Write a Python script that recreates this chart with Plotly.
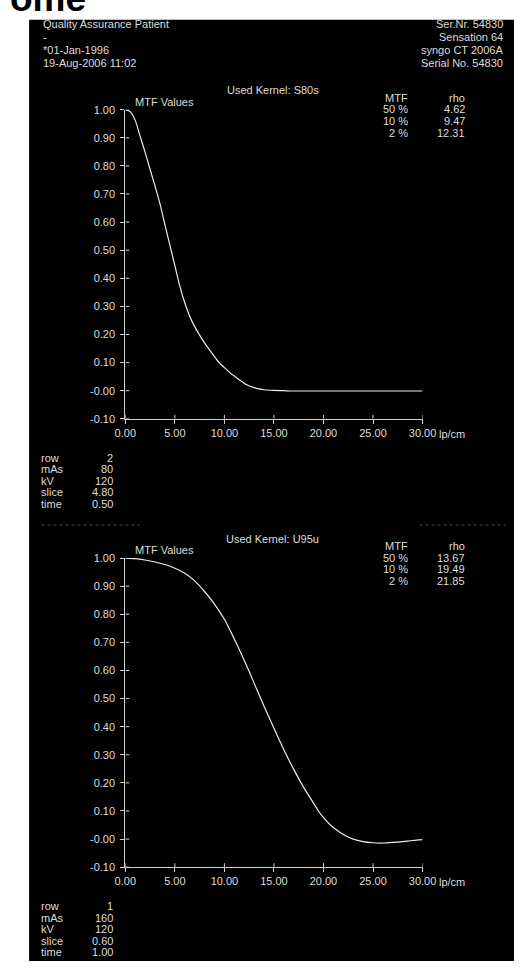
import plotly.graph_objects as go

# ---- page geometry (pixels) ----
W, H = 528, 967

# ---- header text ----
header_left = ["Quality Assurance Patient", "-", "*01-Jan-1996", "19-Aug-2006 11:02"]
header_right = ["Ser.Nr. 54830", "Sensation 64", "syngo CT 2006A", "Serial No. 54830"]

# ---- axes ticks ----
x_ticks = [0, 5, 10, 15, 20, 25, 30]
x_ticktext = ["0.00", "5.00", "10.00", "15.00", "20.00", "25.00", "30.00"]
y_ticks = [-0.1, 0.0, 0.1, 0.2, 0.3, 0.4, 0.5, 0.6, 0.7, 0.8, 0.9, 1.0]
y_ticktext = ["-0.10", "-0.00", "0.10", "0.20", "0.30", "0.40", "0.50",
              "0.60", "0.70", "0.80", "0.90", "1.00"]

# ---- kernel S80s ----
s80_kernel = "S80s"
s80_freq = [0.0, 0.5, 1.0, 1.5, 2.0, 2.5, 3.0, 3.5, 4.0, 4.62, 5.0, 5.5, 6.0, 6.5,
            7.0, 7.5, 8.0, 8.5, 9.0, 9.47, 10.0, 10.5, 11.0, 11.5, 12.0, 12.31,
            13.0, 13.5, 14.0, 15.0, 16.0, 17.0, 20.0, 25.0, 30.0]
s80_mtf = [1.000, 0.993, 0.962, 0.905, 0.848, 0.788, 0.728, 0.665, 0.590, 0.500,
           0.445, 0.372, 0.313, 0.265, 0.228, 0.198, 0.170, 0.145, 0.121, 0.100,
           0.082, 0.066, 0.052, 0.039, 0.027, 0.020, 0.011, 0.0065, 0.0035, 0.001,
           0.000, -0.001, -0.001, -0.001, -0.001]
s80_levels = ["50 %", "10 %", "2 %"]
s80_rho = ["4.62", "9.47", "12.31"]
s80_params = [("row", "2"), ("mAs", "80"), ("kV", "120"), ("slice", "4.80"), ("time", "0.50")]

# ---- kernel U95u ----
u95_kernel = "U95u"
u95_freq = [0.0, 1.0, 2.0, 3.0, 4.0, 5.0, 6.0, 7.0, 8.0, 9.0, 10.0, 11.0, 12.0,
            13.0, 13.67, 14.0, 15.0, 16.0, 17.0, 18.0, 19.0, 19.49, 20.0, 21.0,
            21.85, 22.0, 23.0, 24.0, 25.0, 26.0, 27.0, 28.0, 29.0, 30.0]
u95_mtf = [1.000, 0.998, 0.993, 0.986, 0.977, 0.964, 0.946, 0.919, 0.881, 0.836,
           0.782, 0.712, 0.636, 0.555, 0.500, 0.473, 0.394, 0.318, 0.248, 0.184,
           0.128, 0.100, 0.076, 0.040, 0.020, 0.0165, 0.000, -0.009, -0.013,
           -0.014, -0.012, -0.009, -0.005, -0.002]
u95_levels = ["50 %", "10 %", "2 %"]
u95_rho = ["13.67", "19.49", "21.85"]
u95_params = [("row", "1"), ("mAs", "160"), ("kV", "120"), ("slice", "0.60"), ("time", "1.00")]

TEXT = "#dcdcdc"
AXIS = "#cfcfcf"
CURVE = "#ececec"
FONT = "Liberation Sans, Arial, sans-serif"


def px(x):
    return x / W


def py(y):
    return 1 - y / H


fig = go.Figure()
annotations = []
shapes = []


def text(x, y, s, anchor="left", size=11, color=TEXT):
    annotations.append(dict(
        x=px(x), y=py(y), xref="paper", yref="paper", text=s, showarrow=False,
        xanchor=anchor, yanchor="middle",
        font=dict(family=FONT, size=size, color=color),
    ))


# black display panel
shapes.append(dict(type="rect", xref="paper", yref="paper", x0=px(19), x1=1,
                   y0=0, y1=py(14), fillcolor="black", line=dict(width=0),
                   layer="below"))

# large caption cut at the page top
annotations.append(dict(x=px(-3), y=py(15), xref="paper", yref="paper", text="<b>ome</b>",
                        showarrow=False, xanchor="left", yanchor="bottom",
                        font=dict(family=FONT, size=37, color="black")))

# header block
for i, s in enumerate(header_left):
    text(31, 18.5 + i * 13.1, s, "left")
for i, s in enumerate(header_right):
    text(519, 18.5 + i * 13.1, s, "right")

# faint remnants of a clipped second header
for xa, xb in [(32, 135), (429, 519)]:
    shapes.append(dict(type="line", xref="paper", yref="paper", x0=px(xa), x1=px(xb),
                       y0=py(525.5), y1=py(525.5),
                       line=dict(color="#484848", width=1, dash="dot")))

panels = [
    dict(top=105, bottom=418, xa="x", ya="y", kernel=s80_kernel, freq=s80_freq,
         mtf=s80_mtf, levels=s80_levels, rho=s80_rho, params=s80_params),
    dict(top=559, bottom=872, xa="x2", ya="y2", kernel=u95_kernel, freq=u95_freq,
         mtf=u95_mtf, levels=u95_levels, rho=u95_rho, params=u95_params),
]

X0, X1 = 120, 432
layout_axes = {}
for k, p in enumerate(panels):
    xname = "xaxis" if k == 0 else "xaxis2"
    yname = "yaxis" if k == 0 else "yaxis2"
    common = dict(showline=True, linecolor=AXIS, linewidth=1, ticks="outside",
                  ticklen=4, tickwidth=1, tickcolor=AXIS, showgrid=False,
                  zeroline=False, fixedrange=True,
                  tickfont=dict(family=FONT, size=11, color=TEXT))
    layout_axes[xname] = dict(common, domain=[px(X0), px(X1)], range=[0, 30],
                              anchor=p["ya"], tickvals=x_ticks, ticktext=x_ticktext)
    layout_axes[yname] = dict(common, domain=[py(p["bottom"]), py(p["top"])],
                              range=[-0.1, 1.0], anchor=p["xa"],
                              tickvals=y_ticks, ticktext=y_ticktext,
                              ticklabelstandoff=3)

    fig.add_trace(go.Scatter(x=p["freq"], y=p["mtf"], mode="lines",
                             line=dict(color=CURVE, width=1.2, shape="spline", smoothing=0.8),
                             xaxis=p["xa"], yaxis=p["ya"], showlegend=False,
                             hoverinfo="skip"))

    # inner halves of the crossing tick marks
    for v in x_ticks:
        shapes.append(dict(type="line", xref=p["xa"], yref=p["ya"], x0=v, x1=v,
                           ysizemode="pixel", yanchor=-0.1, y0=0, y1=4,
                           line=dict(color=AXIS, width=1)))
    for v in y_ticks:
        shapes.append(dict(type="line", xref=p["xa"], yref=p["ya"], y0=v, y1=v,
                           xsizemode="pixel", xanchor=0, x0=0, x1=4,
                           line=dict(color=AXIS, width=1)))

    top = p["top"]
    bot = p["bottom"]
    text(275, top - 19.5, "Used Kernel: " + p["kernel"], "center")
    text(128, top - 8, "MTF Values", "left")
    text(419, top - 12, "MTF", "right")
    text(479, top - 12, "rho", "right")
    for i, (lv, r) in enumerate(zip(p["levels"], p["rho"])):
        text(419, top - 0.5 + i * 11.8, lv, "right")
        text(479, top - 0.5 + i * 11.8, r, "right")
    text(447, bot + 15, "lp/cm", "left")
    for i, (name, val) in enumerate(p["params"]):
        text(29, bot + 39.5 + i * 11.7, name, "left")
        text(109, bot + 39.5 + i * 11.7, val, "right")

fig.update_layout(
    width=W, height=H, margin=dict(l=0, r=0, t=0, b=0),
    paper_bgcolor="white", plot_bgcolor="rgba(0,0,0,0)",
    annotations=annotations, shapes=shapes, showlegend=False,
    **layout_axes,
)

fig.write_html("out.html", config={"displayModeBar": False})
